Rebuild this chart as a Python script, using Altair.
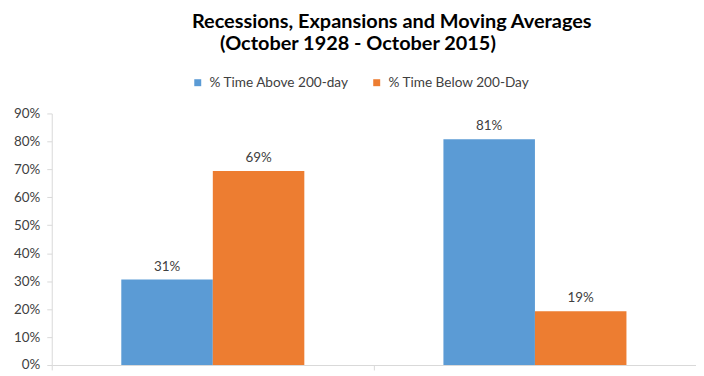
import altair as alt
import pandas as pd

categories = ["Recessions", "Expansions"]
series = ["% Time Above 200-day", "% Time Below 200-Day"]
above = [0.306, 0.808]
below = [0.694, 0.192]
colors = ["#5B9BD5", "#ED7D31"]
y_ticks = [0, 0.1, 0.2, 0.3, 0.4, 0.5, 0.6, 0.7, 0.8, 0.9]
title_line1 = "Recessions, Expansions and Moving Averages"
title_line2 = "(October 1928 - October 2015)"

rows = []
for i, c in enumerate(categories):
    rows.append({"cat": c, "series": series[0], "value": above[i]})
    rows.append({"cat": c, "series": series[1], "value": below[i]})
df = pd.DataFrame(rows)

FONT = "Lato"

x = alt.X("cat:N", sort=categories, title=None,
          scale=alt.Scale(paddingInner=0, paddingOuter=0),
          axis=alt.Axis(labels=False, tickBand="extent", domainColor="#D9D9D9",
                        tickColor="#D9D9D9", tickSize=5, grid=False, domainWidth=1))
xo = alt.XOffset("series:N", sort=series, scale=alt.Scale(paddingOuter=0.76, paddingInner=0))
y = alt.Y("value:Q", title=None,
          scale=alt.Scale(domain=[0, 0.9], nice=False),
          axis=alt.Axis(values=y_ticks, format=".0%", grid=False, domainColor="#D9D9D9",
                        tickColor="#D9D9D9", tickSize=5, labelPadding=7,
                        labelColor="#404040", labelFontSize=13.5, labelFont=FONT))

bars = alt.Chart(df).mark_bar().encode(
    x=x, xOffset=xo, y=y,
    color=alt.Color("series:N", sort=series,
                    scale=alt.Scale(domain=series, range=colors),
                    legend=alt.Legend(title=None, orient="none", direction="horizontal",
                                      legendX=140, legendY=-38, symbolType="square",
                                      symbolSize=49, symbolStrokeWidth=0,
                                      labelFont=FONT, labelFontSize=13.7, labelColor="#404040",
                                      columnPadding=21, labelOffset=5)),
)

labels = alt.Chart(df).mark_text(dy=-13, font=FONT, fontSize=13.5, color="#404040").encode(
    x=x, xOffset=xo, y=y,
    text=alt.Text("value:Q", format=".0%"),
)

t1 = alt.Chart(pd.DataFrame({"t": [title_line1]})).mark_text(
    font=FONT, fontSize=20, fontWeight="bold", color="#000000",
    align="center", baseline="alphabetic").encode(
    text="t:N", x=alt.value(342), y=alt.value(-86))
t2 = alt.Chart(pd.DataFrame({"t": [title_line2]})).mark_text(
    font=FONT, fontSize=20, fontWeight="bold", color="#000000",
    align="center", baseline="alphabetic").encode(
    text="t:N", x=alt.value(308), y=alt.value(-64))

chart = alt.layer(bars, labels, t1, t2).properties(
    width=648, height=253,
    autosize=alt.AutoSizeParams(type="none"),
    padding={"left": 44, "top": 105, "right": 0, "bottom": 8},
).configure_view(stroke=None)

chart.save("out.html", embed_options={"renderer": "svg", "actions": False})
